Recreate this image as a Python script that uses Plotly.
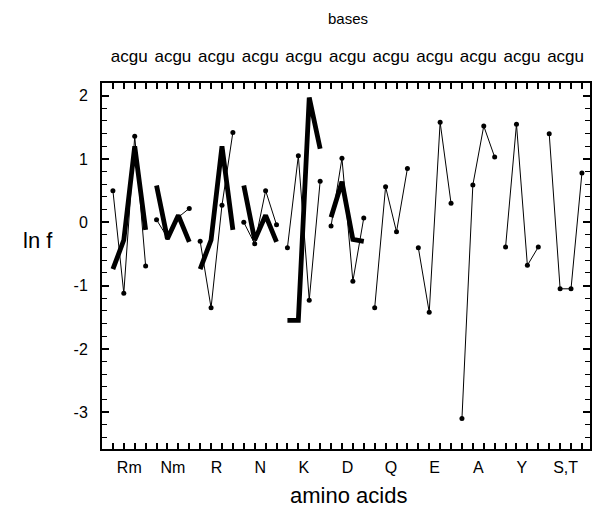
import plotly.graph_objects as go

bases = ["a", "c", "g", "u"]
amino_acids = ["Rm", "Nm", "R", "N", "K", "D", "Q", "E", "A", "Y", "S,T"]

# measured ln f (thin line with dots), per amino acid, bases a c g u
measured = {
    "Rm": [0.50, -1.12, 1.36, -0.69],
    "Nm": [0.04, -0.24, 0.08, 0.22],
    "R": [-0.30, -1.35, 0.27, 1.42],
    "N": [0.00, -0.34, 0.50, -0.04],
    "K": [-0.40, 1.05, -1.23, 0.65],
    "D": [-0.06, 1.01, -0.93, 0.07],
    "Q": [-1.35, 0.56, -0.15, 0.85],
    "E": [-0.40, -1.42, 1.58, 0.30],
    "A": [-3.10, 0.59, 1.52, 1.03],
    "Y": [-0.39, 1.55, -0.68, -0.39],
    "S,T": [1.40, -1.05, -1.05, 0.78],
}

# model ln f (thick line), first six amino acids
model = {
    "Rm": [-0.74, -0.28, 1.20, -0.12],
    "Nm": [0.58, -0.26, 0.11, -0.31],
    "R": [-0.74, -0.28, 1.20, -0.12],
    "N": [0.58, -0.28, 0.11, -0.31],
    "K": [-1.55, -1.55, 1.97, 1.16],
    "D": [0.08, 0.64, -0.27, -0.30],
}

y_ticks = [-3, -2, -1, 0, 1, 2]
y_ticktext = ["-3", "-2", "-1", "0", "1", "2"]

nb = len(bases)
positions = list(range(1, nb * len(amino_acids) + 1))
centers = [g * nb + (nb + 1) / 2 for g in range(len(amino_acids))]


def build(series):
    xs, ys = [], []
    for g, aa in enumerate(amino_acids):
        if aa not in series:
            continue
        for b, v in enumerate(series[aa]):
            xs.append(g * nb + b + 1)
            ys.append(v)
        xs.append(None)
        ys.append(None)
    return xs, ys


fig = go.Figure()

mx, my = build(measured)
fig.add_trace(go.Scatter(
    x=mx, y=my, mode="lines+markers",
    line=dict(color="black", width=1),
    marker=dict(color="black", size=5),
    connectgaps=False, showlegend=False, hoverinfo="skip",
))

tx, ty = build(model)
fig.add_trace(go.Scatter(
    x=tx, y=ty, mode="lines",
    line=dict(color="black", width=4.8),
    connectgaps=False, showlegend=False, hoverinfo="skip",
))

# invisible traces registering the label axes
fig.add_trace(go.Scatter(x=centers, y=[None] * len(centers), xaxis="x2", yaxis="y",
                         mode="markers", showlegend=False, hoverinfo="skip"))
fig.add_trace(go.Scatter(x=centers, y=[None] * len(centers), xaxis="x3", yaxis="y",
                         mode="markers", showlegend=False, hoverinfo="skip"))

xr = [0, 44.74]
font = "Liberation Sans, Arial, Helvetica, sans-serif"

fig.update_layout(
    width=597, height=508,
    margin=dict(l=102, r=5, t=83, b=59),
    paper_bgcolor="white", plot_bgcolor="white",
    font=dict(family=font, color="black", size=16),
    xaxis=dict(
        range=xr, tickmode="array", tickvals=positions,
        ticks="inside", ticklen=6, tickwidth=1.5, tickcolor="black",
        showticklabels=False, showgrid=False, zeroline=False,
        showline=True, linewidth=2, linecolor="black", mirror="ticks",
    ),
    xaxis2=dict(
        range=xr, overlaying="x", side="bottom", anchor="y",
        tickmode="array", tickvals=centers, ticktext=amino_acids,
        ticks="", showgrid=False, zeroline=False, showline=False,
        tickfont=dict(size=16), ticklabelstandoff=7,
    ),
    xaxis3=dict(
        range=xr, overlaying="x", side="top", anchor="y",
        tickmode="array", tickvals=centers, ticktext=["".join(bases)] * len(amino_acids),
        ticks="", showgrid=False, zeroline=False, showline=False,
        tickfont=dict(size=17), ticklabelstandoff=17,
    ),
    yaxis=dict(
        range=[-3.58, 2.2], tickmode="array", tickvals=y_ticks, ticktext=y_ticktext,
        ticks="inside", ticklen=7, tickwidth=1.5, tickcolor="black",
        minor=dict(dtick=0.2, tick0=0, ticks="inside", ticklen=5, tickwidth=1.2, tickcolor="black"),
        showgrid=False, zeroline=False,
        showline=True, linewidth=2, linecolor="black", mirror="ticks",
        tickfont=dict(size=16), ticklabelstandoff=9,
    ),
    annotations=[
        dict(text="bases", xref="paper", yref="paper", x=0.505, y=1, yshift=65,
             showarrow=False, font=dict(size=15), yanchor="middle"),
        dict(text="amino acids", xref="paper", yref="paper", x=0.505, y=0, yshift=-46,
             showarrow=False, font=dict(size=22), yanchor="middle"),
        dict(text="ln f", xref="paper", yref="paper", x=0, xshift=-64, y=0.5, yshift=26,
             showarrow=False, font=dict(size=22), xanchor="center", yanchor="middle"),
    ],
)

fig.write_html("out.html")
